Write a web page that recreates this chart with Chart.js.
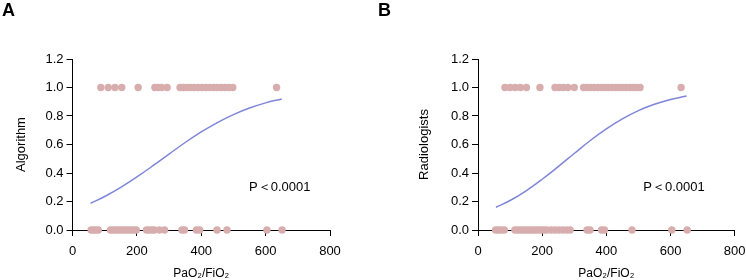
<!DOCTYPE html>
<html>
<head>
<meta charset="utf-8">
<script src="https://cdn.jsdelivr.net/npm/chart.js@4"></script>
<style>
	body { margin: 0; background: #fff; }
	.panel { position: absolute; top: 0; width: 373px; height: 280px; }
</style>
</head>
<body>
<div class="panel" style="left:0"><canvas id="chart-algorithm"></canvas></div>
<div class="panel" style="left:373px"><canvas id="chart-radiologists"></canvas></div>
<script>
// Data
const X_TICKS = [0, 200, 400, 600, 800];
const Y_TICKS = [0, 0.2, 0.4, 0.6, 0.8, 1.0, 1.2];

const CURVE_X = [56, 100, 150, 200, 250, 300, 350, 400, 450, 500, 550, 600, 650];

const ALGO_POS = [88, 111, 132, 153, 204, 256, 266, 277, 294, 334, 345, 356, 367, 378, 390, 402, 414, 426, 438, 450, 462, 474, 486, 498, 634];
const ALGO_NEG = [58, 65, 72, 80, 118, 126, 134, 142, 150, 158, 166, 174, 182, 190, 198, 230, 238, 246, 254, 270, 286, 340, 348, 385, 395, 449, 480, 604, 651];
const ALGO_CURVE = [0.187, 0.235, 0.299, 0.372, 0.451, 0.533, 0.614, 0.688, 0.754, 0.81, 0.856, 0.892, 0.92];

const RAD_POS = [84, 100, 116, 132, 151, 193, 240, 253, 266, 280, 300, 329, 340, 351, 362, 373, 384, 395, 406, 417, 428, 439, 450, 461, 472, 483, 494, 505, 633];
const RAD_NEG = [55, 63, 72, 82, 115, 124, 133, 142, 151, 160, 169, 178, 187, 196, 205, 214, 228, 240, 252, 264, 276, 287, 340, 349, 385, 394, 480, 604, 652];
const RAD_CURVE = [0.16, 0.207, 0.275, 0.356, 0.445, 0.537, 0.628, 0.71, 0.78, 0.838, 0.882, 0.916, 0.94];

const DOT = "#d8adae";
const LINE = "#7f86d8";
const FONT = "'Liberation Sans', Arial, sans-serif";

const toPoints = (xs, y) => xs.map((x) => ({ x, y }));

const makeChart = (id, opts) => {
	const panelText = {
		id: "panelText",
		afterDraw(chart) {
			const { ctx, scales } = chart;
			ctx.save();
			ctx.fillStyle = "#000";
			ctx.font = "bold 18px " + FONT;
			ctx.textBaseline = "alphabetic";
			ctx.fillText(opts.letter, opts.letterX, 16);
			ctx.font = "13px " + FONT;
			ctx.textAlign = "center";
			ctx.textBaseline = "middle";
			ctx.fillText("P\uFF1C0.0001", scales.x.getPixelForValue(opts.pX), scales.y.getPixelForValue(0.3));
			ctx.restore();
		},
	};

	const axisBase = {
		border: { display: true, color: "#000", width: 1 },
		grid: { display: true, drawOnChartArea: false, drawTicks: true, tickLength: 6, color: "#000" },
	};

	new Chart(document.getElementById(id), {
		type: "scatter",
		data: {
			datasets: [
				{
					type: "line",
					data: CURVE_X.map((x, i) => ({ x, y: opts.curve[i] })),
					borderColor: LINE,
					borderWidth: 1.5,
					pointRadius: 0,
					tension: 0.4,
					fill: false,
				},
				{
					data: toPoints(opts.pos, 1),
					backgroundColor: DOT,
					borderWidth: 0,
					pointRadius: 3.7,
					clip: false,
				},
				{
					data: toPoints(opts.neg, 0),
					backgroundColor: DOT,
					borderWidth: 0,
					pointRadius: 3.7,
					clip: false,
				},
			],
		},
		options: {
			responsive: true,
			maintainAspectRatio: false,
			animation: false,
			layout: { padding: { top: 59, right: opts.padRight, bottom: 0, left: 0 } },
			plugins: { legend: { display: false }, tooltip: { enabled: false } },
			scales: {
				x: {
					...axisBase,
					type: "linear",
					min: 0,
					max: 800,
					afterBuildTicks: (scale) => {
						scale.ticks = X_TICKS.map((value) => ({ value }));
					},
					ticks: { color: "#000", font: { family: FONT, size: 13 }, padding: 8, maxRotation: 0 },
					title: {
						display: true,
						text: "PaO\u2082/FiO\u2082",
						color: "#000",
						font: { family: FONT, size: 12, lineHeight: 1.05 },
						padding: { top: 0, bottom: 0 },
					},
					afterFit: (scale) => {
						scale.height = 50;
						scale.paddingLeft = 0;
						scale.paddingRight = 0;
					},
				},
				y: {
					...axisBase,
					min: 0,
					max: 1.2,
					afterBuildTicks: (scale) => {
						scale.ticks = Y_TICKS.map((value) => ({ value }));
					},
					ticks: {
						color: "#000",
						font: { family: FONT, size: 13 },
						padding: 3,
						callback: (v) => Number(v).toFixed(1),
					},
					title: {
						display: true,
						text: opts.yTitle,
						color: "#000",
						font: { family: FONT, size: 13 },
						padding: { top: opts.titlePad, bottom: 0 },
					},
					afterFit: (scale) => {
						scale.width = opts.yWidth;
					},
				},
			},
		},
		plugins: [panelText],
	});
};

makeChart("chart-algorithm", {
	letter: "A",
	letterX: 2,
	pos: ALGO_POS,
	neg: ALGO_NEG,
	curve: ALGO_CURVE,
	yTitle: "Algorithm",
	yWidth: 72.5,
	padRight: 43,
	titlePad: 14,
	pX: 644,
});

makeChart("chart-radiologists", {
	letter: "B",
	letterX: 5,
	pos: RAD_POS,
	neg: RAD_NEG,
	curve: RAD_CURVE,
	yTitle: "Radiologists",
	yWidth: 105,
	padRight: 11.3,
	titlePad: 44,
	pX: 611,
});
</script>
</body>
</html>
